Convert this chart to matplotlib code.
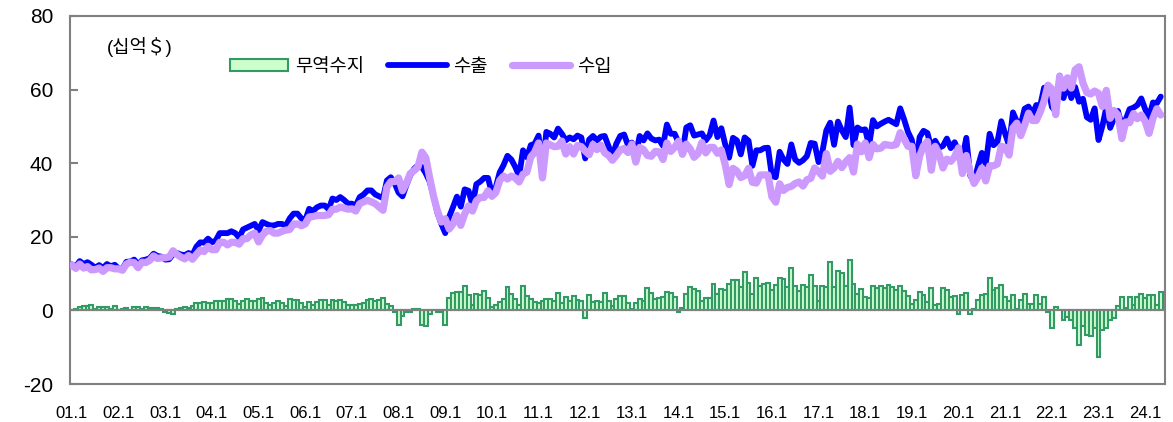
import numpy as np
import matplotlib
matplotlib.use('Agg')
import matplotlib.pyplot as plt
from matplotlib.patches import Patch
from matplotlib.lines import Line2D

plt.rcParams['font.family'] = ['Liberation Sans', 'Noto Sans CJK KR', 'DejaVu Sans']
plt.rcParams['axes.unicode_minus'] = False

# monthly exports / imports, billion USD, 2001.1 - 2024.5
exports = [
    12.5, 11.9, 13.4, 12.6, 13.1, 12.4, 11.6, 12.3, 11.5, 12.6, 12.0, 12.4,   # 2001
    11.4, 11.3, 13.2, 13.3, 13.8, 12.5, 13.6, 13.8, 14.2, 15.4, 14.8, 14.6,   # 2002
    13.8, 13.9, 15.3, 15.6, 15.2, 15.0, 15.6, 15.1, 17.3, 18.5, 18.4, 19.5,   # 2003
    18.5, 19.0, 21.0, 21.0, 21.0, 21.5, 21.0, 19.8, 22.0, 22.5, 23.0, 23.5,   # 2004
    21.7, 24.0, 23.5, 23.1, 23.1, 23.5, 23.5, 23.0, 25.0, 26.3, 26.3, 25.0,   # 2005
    24.5, 27.6, 27.0, 28.0, 28.5, 28.5, 27.5, 30.4, 30.0, 30.8, 30.0, 29.0,   # 2006
    29.0, 28.5, 30.8, 31.5, 32.6, 32.6, 31.5, 31.0, 30.5, 35.3, 36.2, 34.5,   # 2007
    32.0, 31.0, 34.0, 36.7, 38.5, 39.4, 39.0, 37.2, 35.0, 31.0, 26.5, 23.5,   # 2008
    21.0, 25.4, 28.1, 30.9, 28.2, 32.9, 32.5, 28.6, 34.3, 35.0, 36.0, 36.0,   # 2009
    31.8, 33.5, 37.5, 39.5, 42.0, 41.0, 39.0, 36.5, 43.5, 41.6, 44.9, 45.3,   # 2010
    47.5, 38.6, 48.5, 48.0, 47.0, 49.4, 48.0, 46.2, 47.0, 46.5, 47.5, 47.0,   # 2011
    41.3, 46.4, 47.4, 46.2, 47.2, 47.4, 44.6, 42.0, 45.3, 47.4, 47.8, 44.9,   # 2012
    45.6, 42.3, 47.4, 46.2, 48.1, 46.7, 46.2, 46.4, 44.7, 50.5, 48.0, 48.0,   # 2013
    45.6, 43.0, 49.7, 50.3, 47.5, 47.8, 48.1, 46.2, 47.6, 51.6, 47.1, 49.5,   # 2014
    45.1, 41.5, 46.9, 46.2, 42.4, 47.0, 46.1, 39.3, 43.5, 43.5, 44.1, 44.2,   # 2015
    36.5, 36.2, 43.1, 41.0, 39.8, 45.1, 41.0, 40.1, 40.8, 41.9, 45.5, 45.3,   # 2016
    40.3, 43.2, 48.9, 51.0, 45.0, 51.3, 48.9, 47.1, 55.1, 44.9, 49.7, 49.0,   # 2017
    49.2, 44.8, 51.7, 50.0, 50.7, 51.3, 51.8, 51.2, 50.6, 54.9, 51.9, 48.5,   # 2018
    46.3, 39.5, 47.1, 48.8, 48.2, 44.2, 46.1, 44.2, 44.7, 46.7, 44.1, 45.7,   # 2019
    43.3, 41.3, 46.9, 36.7, 34.9, 39.2, 42.8, 39.7, 48.0, 44.9, 45.8, 51.4,   # 2020
    48.0, 44.8, 53.8, 51.3, 50.4, 54.8, 55.4, 53.3, 55.8, 55.6, 60.5, 60.7,   # 2021
    55.3, 54.0, 63.8, 57.7, 61.5, 57.7, 60.7, 56.7, 57.5, 52.5, 51.8, 54.9,   # 2022
    46.3, 50.1, 55.1, 49.6, 52.2, 54.2, 50.3, 51.9, 54.7, 55.1, 55.8, 57.6,   # 2023
    54.7, 52.4, 56.5, 56.3, 58.1,                                             # 2024
]
imports = [
    12.3, 11.4, 12.6, 11.5, 11.9, 11.0, 11.1, 11.5, 10.6, 11.6, 11.6, 11.3,   # 2001
    11.3, 10.9, 12.6, 13.1, 13.0, 11.6, 13.1, 13.0, 13.6, 14.8, 14.1, 14.3,   # 2002
    14.3, 14.5, 16.2, 15.2, 14.5, 14.0, 14.9, 13.9, 15.2, 16.4, 16.0, 17.4,   # 2003
    16.5, 16.5, 18.5, 18.5, 17.8, 18.5, 18.5, 18.0, 19.5, 19.5, 20.5, 21.0,   # 2004
    18.6, 20.5, 21.5, 21.7, 21.0, 21.0, 21.5, 21.8, 22.0, 23.5, 23.5, 23.0,   # 2005
    23.5, 25.4, 25.5, 25.8, 25.8, 25.8, 26.0, 27.5, 27.5, 28.1, 27.8, 27.5,   # 2006
    27.6, 27.0, 29.0, 29.5, 29.9, 29.5, 29.0, 28.1, 27.2, 33.5, 35.0, 35.0,   # 2007
    36.0, 32.5, 34.5, 37.2, 38.0, 39.0, 43.0, 41.5, 36.0, 31.0, 27.0, 24.0,   # 2008
    24.9, 22.1, 23.5, 25.8, 23.1, 26.2, 28.4, 27.0, 29.8, 30.7, 30.7, 32.5,   # 2009
    31.0, 32.0, 35.3, 36.5, 35.7, 36.5, 36.0, 34.9, 37.0, 37.6, 41.7, 43.0,   # 2010
    45.5, 36.0, 45.5, 45.0, 44.5, 44.6, 46.0, 42.5, 44.5, 42.5, 44.8, 44.5,   # 2011
    43.3, 42.3, 45.1, 43.7, 44.9, 42.8, 42.1, 40.8, 42.1, 43.6, 44.0, 42.9,   # 2012
    45.2, 40.3, 44.3, 43.7, 42.1, 41.9, 43.2, 43.1, 41.0, 45.5, 43.2, 44.3,   # 2013
    46.0, 42.4, 45.2, 43.9, 41.6, 42.6, 45.6, 42.8, 44.3, 44.3, 42.7, 43.6,   # 2014
    39.6, 34.2, 38.6, 37.9, 36.1, 36.6, 38.6, 34.8, 34.6, 36.8, 36.8, 36.8,   # 2015
    30.9, 29.4, 34.4, 32.6, 33.4, 33.7, 34.5, 34.9, 33.8, 35.5, 35.9, 38.7,   # 2016
    37.7, 36.5, 42.6, 37.8, 38.7, 40.5, 38.8, 40.4, 41.5, 37.6, 45.2, 43.1,   # 2017
    45.5, 41.5, 45.1, 43.9, 44.1, 45.1, 44.9, 44.8, 45.1, 48.3, 46.6, 44.6,   # 2018
    44.6, 36.6, 42.0, 44.7, 45.9, 38.1, 44.6, 42.5, 38.7, 41.1, 40.5, 41.7,   # 2019
    44.2, 37.2, 42.1, 37.6, 34.5, 36.3, 38.7, 35.2, 39.3, 39.3, 39.8, 44.6,   # 2020
    44.3, 42.2, 49.6, 50.9, 47.5, 50.3, 53.6, 51.6, 51.6, 53.9, 56.9, 61.2,   # 2021
    60.2, 53.2, 63.6, 60.4, 63.2, 60.4, 65.4, 66.2, 61.8, 59.2, 58.8, 59.6,   # 2022
    59.0, 55.4, 59.8, 52.2, 54.3, 53.1, 46.7, 51.2, 51.0, 53.5, 52.1, 53.1,   # 2023
    51.4, 48.1, 52.2, 54.8, 53.1,                                             # 2024
]
balance = np.array(exports) - np.array(imports)   # 무역수지 = 수출 - 수입

tick_labels = [f'{y:02d}.1' for y in range(1, 25)]

x = np.arange(len(exports))

fig = plt.figure(figsize=(11.73, 4.22), dpi=100)
ax = fig.add_axes([70/1173, 1 - 384/422, 1095/1173, 368/422])

ax.bar(x, balance, width=1.0, facecolor='#ccffcc', edgecolor='#339966',
       linewidth=1.5, zorder=2)
ax.axhline(0, color='#808080', lw=1.5, zorder=3)
ax.plot(x, exports, color='#0000ff', lw=4.2, solid_capstyle='round',
        solid_joinstyle='round', zorder=4)
ax.plot(x, imports, color='#cc99ff', lw=5.2, solid_capstyle='round',
        solid_joinstyle='round', zorder=5)

ax.set_xlim(-0.5, 281.1)
ax.set_ylim(-20, 80)
ax.set_yticks(range(-20, 81, 20))
ax.tick_params(axis='y', direction='in', length=6, width=1.5, color='#808080',
               labelsize=15, pad=12)
ax.set_xticks(np.arange(0, 277, 12))
ax.set_xticklabels(tick_labels)
ax.tick_params(axis='x', length=0, labelsize=12, pad=16)
for s in ax.spines.values():
    s.set_color('#808080')
    s.set_linewidth(1.5)

ax.text(0.034, 0.916, '(십억＄)', transform=ax.transAxes, fontsize=13.5,
        va='center', ha='left')

handles = [Patch(facecolor='#ccffcc', edgecolor='#339966', linewidth=1.5),
           Line2D([], [], color='#0000ff', lw=4.2, solid_capstyle='round'),
           Line2D([], [], color='#cc99ff', lw=5.2, solid_capstyle='round')]
ax.legend(handles, ['무역수지', '수출', '수입'], ncol=3, frameon=False,
          loc='center left', bbox_to_anchor=(0.131, 0.861), fontsize=13.5,
          handlelength=3.1, handleheight=0.6, handletextpad=0.35,
          columnspacing=1.3)

fig.savefig('out.png', dpi=100)
